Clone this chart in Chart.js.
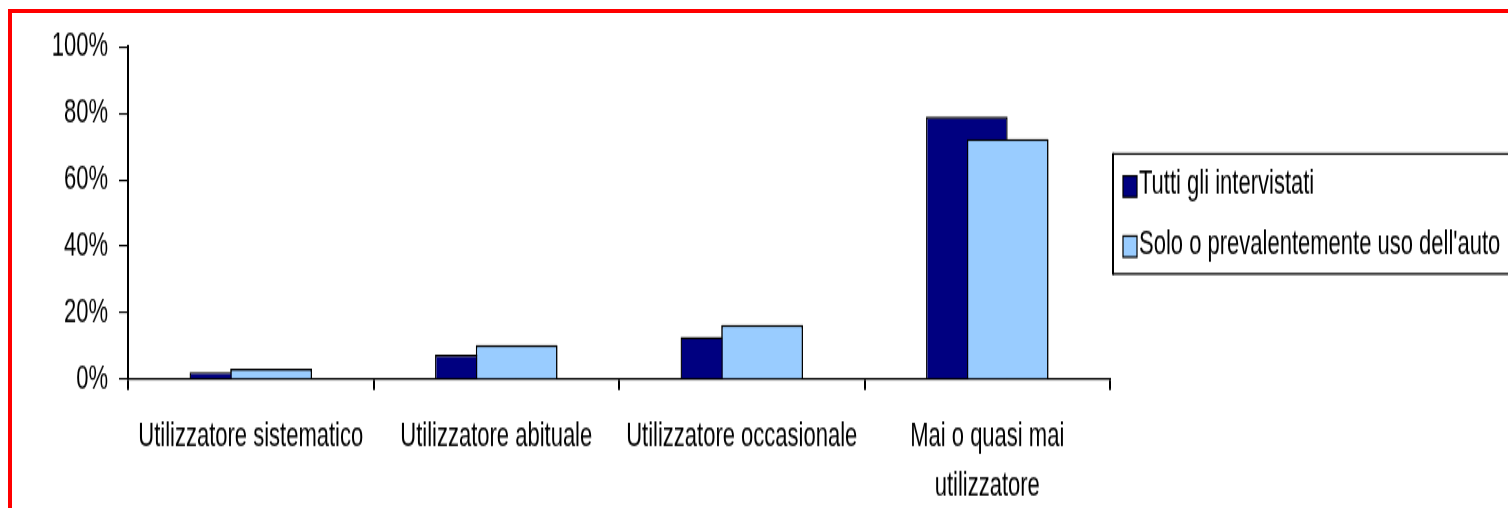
<!DOCTYPE html>
<html lang="it">
<head>
<meta charset="utf-8">
<title>Utilizzo</title>
<script src="https://cdn.jsdelivr.net/npm/chart.js@4.4.1/dist/chart.umd.min.js"></script>
<style>
  html, body { margin: 0; padding: 0; background: #fff; width: 1508px; height: 508px; overflow: hidden; }
  #frame {
    position: absolute; left: 8px; top: 9px; width: 2000px; height: 1000px;
    border: 4px solid #ff0000; box-sizing: border-box;
  }
  /* the chart is drawn on a short canvas and stretched vertically (tall, narrow lettering) */
  #wrap {
    position: absolute; left: 0; top: 0; width: 1508px; height: 328px;
    transform: scaleY(1.5488); transform-origin: 0 0;
  }
</style>
</head>
<body>
<div id="frame"></div>
<div id="wrap"><canvas id="chart" width="1508" height="328"></canvas></div>
<script>
// Categories and series
const categories = [
  'Utilizzatore sistematico',
  'Utilizzatore abituale',
  'Utilizzatore occasionale',
  ['Mai o quasi mai', 'utilizzatore']
];
const seriesNames = ['Tutti gli intervistati', "Solo o prevalentemente uso dell'auto"];
const tuttiGliIntervistati = [2.1, 7.3, 12.7, 79.0];
const soloAuto = [3.1, 10.2, 16.3, 72.3];
const yTickValues = [0, 20, 40, 60, 80, 100];

const seriesColors = ['#000080', '#99CCFF'];

const FONT = { family: "'Liberation Sans', Arial, sans-serif", size: 22, lineHeight: 1.43 };

// The second series sits in front of the first where the bars overlap
const frontSeries = {
  id: 'frontSeries',
  afterDatasetsDraw(chart) {
    const meta = chart.getDatasetMeta(1);
    if (meta && !meta.hidden) meta.controller.draw();
  }
};

// Boxed legend to the right of the plot
const boxedLegend = {
  id: 'boxedLegend',
  afterDraw(chart) {
    const { ctx, chartArea } = chart;
    const left = chartArea.right + 3;
    const top = 99.4, bottom = 176.9, right = chart.width + 40;
    ctx.save();
    ctx.strokeStyle = '#000';
    ctx.lineWidth = 1.3;
    ctx.beginPath();
    ctx.moveTo(right, top); ctx.lineTo(left, top);
    ctx.moveTo(left, bottom); ctx.lineTo(right, bottom);
    ctx.stroke();
    ctx.lineWidth = 2;
    ctx.beginPath();
    ctx.moveTo(left, top - 0.6); ctx.lineTo(left, bottom + 0.6);
    ctx.stroke();

    ctx.font = `${FONT.size}px ${FONT.family}`;
    ctx.textAlign = 'left';
    ctx.textBaseline = 'alphabetic';
    chart.data.datasets.forEach((ds, i) => {
      const cy = 120.4 + i * 38.8;
      ctx.fillStyle = ds.backgroundColor;
      ctx.fillRect(left + 10, cy - 6.8, 14, 13.6);
      ctx.lineWidth = 1.2;
      ctx.strokeStyle = '#000';
      ctx.strokeRect(left + 10, cy - 6.8, 14, 13.6);
      ctx.fillStyle = '#000';
      ctx.fillText(ds.label, left + 26, cy + 4.6);
    });
    ctx.restore();
  }
};

new Chart(document.getElementById('chart'), {
  type: 'bar',
  data: {
    labels: categories,
    datasets: [
      {
        label: seriesNames[0],
        data: tuttiGliIntervistati,
        backgroundColor: seriesColors[0],
        borderColor: '#000',
        borderWidth: 1.4
      },
      {
        label: seriesNames[1],
        data: soloAuto,
        backgroundColor: seriesColors[1],
        borderColor: '#000',
        borderWidth: 1.4
      }
    ]
  },
  options: {
    responsive: false,
    animation: false,
    devicePixelRatio: 1,
    categoryPercentage: 0.3324,
    barPercentage: 2.0,
    layout: { padding: { top: 30.35, left: 0, right: 398, bottom: 0 } },
    plugins: {
      legend: { display: false },
      tooltip: { enabled: false }
    },
    scales: {
      x: {
        offset: true,
        grid: {
          display: true, drawOnChartArea: false, drawTicks: true,
          tickLength: 7.1, color: '#000', lineWidth: 2, offset: true
        },
        border: { display: true, color: '#000', width: 1.3 },
        ticks: {
          color: '#000', font: FONT, padding: 14.8,
          maxRotation: 0, minRotation: 0, autoSkip: false
        },
        afterFit(scale) { scale.height = 83.3; }
      },
      y: {
        min: 0,
        max: 100,
        afterBuildTicks(scale) { scale.ticks = yTickValues.map(v => ({ value: v })); },
        grid: {
          display: true, drawOnChartArea: false, drawTicks: true,
          tickLength: 9, color: '#000', lineWidth: 1.1
        },
        border: { display: true, color: '#000', width: 2 },
        ticks: {
          color: '#000', font: FONT, padding: 11,
          callback: v => v + '%'
        },
        afterFit(scale) { scale.width = 128; }
      }
    }
  },
  plugins: [frontSeries, boxedLegend]
});
</script>
</body>
</html>
